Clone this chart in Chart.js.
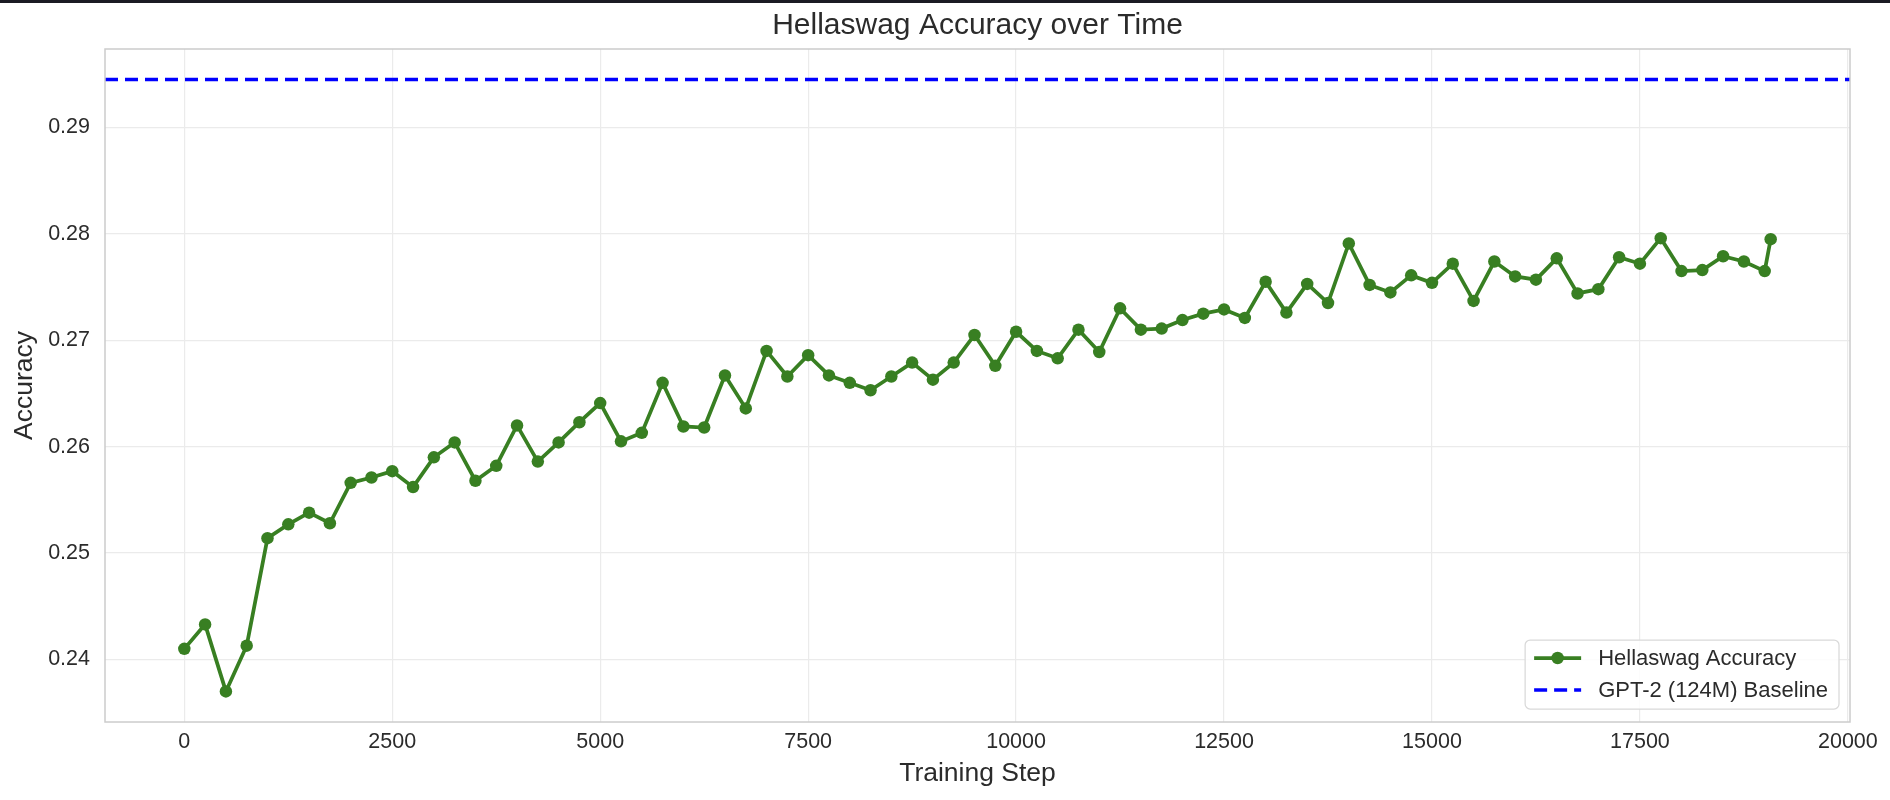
<!DOCTYPE html>
<html>
<head>
<meta charset="utf-8">
<title>Hellaswag Accuracy over Time</title>
<script src="https://cdn.jsdelivr.net/npm/chart.js@4.4.7/dist/chart.umd.min.js"></script>
<style>
    html, body { margin: 0; padding: 0; background: #ffffff; }
    #topbar { position: absolute; left: 0; top: 0; width: 1890px; height: 3px; background: #1b1b23; }
    #chart { display: block; }
</style>
</head>
<body>
<div id="topbar"></div>
<canvas id="chart" width="1890" height="800"></canvas>
<script>

//////////////////////////////////////////      Data     ///////////////////////////////////////////

// Evaluation steps (every 250 steps plus the final step).
const steps = [
    0, 250, 500, 750, 1000, 1250, 1500, 1750, 2000, 2250,
    2500, 2750, 3000, 3250, 3500, 3750, 4000, 4250, 4500, 4750,
    5000, 5250, 5500, 5750, 6000, 6250, 6500, 6750, 7000, 7250,
    7500, 7750, 8000, 8250, 8500, 8750, 9000, 9250, 9500, 9750,
    10000, 10250, 10500, 10750, 11000, 11250, 11500, 11750, 12000, 12250,
    12500, 12750, 13000, 13250, 13500, 13750, 14000, 14250, 14500, 14750,
    15000, 15250, 15500, 15750, 16000, 16250, 16500, 16750, 17000, 17250,
    17500, 17750, 18000, 18250, 18500, 18750, 19000, 19072
];

// Hellaswag accuracy at each step.
const accuracy = [
    0.2410, 0.2433, 0.2370, 0.2413, 0.2514, 0.2527, 0.2538, 0.2528, 0.2566, 0.2571,
    0.2577, 0.2562, 0.2590, 0.2604, 0.2568, 0.2582, 0.2620, 0.2586, 0.2604, 0.2623,
    0.2641, 0.2605, 0.2613, 0.2660, 0.2619, 0.2618, 0.2667, 0.2636, 0.2690, 0.2666,
    0.2686, 0.2667, 0.2660, 0.2653, 0.2666, 0.2679, 0.2663, 0.2679, 0.2705, 0.2676,
    0.2708, 0.2690, 0.2683, 0.2710, 0.2689, 0.2730, 0.2710, 0.2711, 0.2719, 0.2725,
    0.2729, 0.2721, 0.2755, 0.2726, 0.2753, 0.2735, 0.2791, 0.2752, 0.2745, 0.2761,
    0.2754, 0.2772, 0.2737, 0.2774, 0.2760, 0.2757, 0.2777, 0.2744, 0.2748, 0.2778,
    0.2772, 0.2796, 0.2765, 0.2766, 0.2779, 0.2774, 0.2765, 0.2795
];

// GPT-2 (124M) reference accuracy.
const baseline = 0.2945;

// Tick values.
const xTicks = [0, 2500, 5000, 7500, 10000, 12500, 15000, 17500, 20000];
const yTicks = [0.24, 0.25, 0.26, 0.27, 0.28, 0.29];

const labels = ['Hellaswag Accuracy', 'GPT-2 (124M) Baseline'];

//////////////////////////////////////////      Main     ///////////////////////////////////////////

const FONT = '"Liberation Sans", Arial, Helvetica, sans-serif';
const TEXT = '#2b2b2b';
const GREEN = '#387f22';
const BLUE = '#0000ff';

/*
 * Axis limits with a 5% margin like matplotlib's autoscale.
 */
function getLimits(values) {
    var lo = Math.min.apply(null, values);
    var hi = Math.max.apply(null, values);
    var m = (hi - lo) * 0.05;
    return { min: lo - m, max: hi + m };
}

const xLim = getLimits(steps);
const yLim = getLimits(accuracy.concat([baseline]));

/*
 * Plugin: axes frame and the legend in the lower right corner.
 */
const framePlugin = {
    id: 'frame',
    afterDraw(chart) {
        const ctx = chart.ctx;
        const a = chart.chartArea;

        // Frame round the plot.
        ctx.save();
        ctx.strokeStyle = '#cccccc';
        ctx.lineWidth = 1.5;
        ctx.strokeRect(a.left, a.top, a.right - a.left, a.bottom - a.top);
        ctx.restore();

        // Legend.
        ctx.save();
        ctx.font = '22px ' + FONT;
        var tw = Math.max(ctx.measureText(labels[0]).width, ctx.measureText(labels[1]).width);
        var w = 73 + tw + 11;
        var h = 69;
        var x0 = a.right - 11 - w;
        var y0 = a.bottom - 13 - h;

        ctx.beginPath();
        ctx.roundRect(x0, y0, w, h, 5);
        ctx.fillStyle = 'rgba(255,255,255,0.85)';
        ctx.fill();
        ctx.strokeStyle = '#d9d9d9';
        ctx.lineWidth = 1.25;
        ctx.stroke();

        var ds = chart.data.datasets;
        var rows = [y0 + 18, y0 + 50];
        for (var i = 0; i < 2; i++) {
            var y = rows[i];
            ctx.beginPath();
            ctx.setLineDash(ds[i].borderDash || []);
            ctx.lineCap = 'butt';
            ctx.strokeStyle = ds[i].borderColor;
            ctx.lineWidth = ds[i].borderWidth;
            ctx.moveTo(x0 + 9, y);
            ctx.lineTo(x0 + 56, y);
            ctx.stroke();
            ctx.setLineDash([]);
            if (ds[i].pointRadius > 0) {
                ctx.beginPath();
                ctx.fillStyle = ds[i].pointBackgroundColor;
                ctx.arc(x0 + 32.5, y, ds[i].pointRadius, 0, Math.PI * 2);
                ctx.fill();
            }
            ctx.fillStyle = TEXT;
            ctx.textBaseline = 'middle';
            ctx.textAlign = 'left';
            ctx.fillText(labels[i], x0 + 73, y + 1);
        }
        ctx.restore();
    }
};

function initLineChart() {

    const ctx = document.getElementById('chart');

    var points = steps.map(function (s, i) { return { x: s, y: accuracy[i] }; });
    var base = [{ x: xLim.min, y: baseline }, { x: xLim.max, y: baseline }];

    var data = {
        datasets: [{
            label: labels[0],
            data: points,
            borderColor: GREEN,
            borderWidth: 3.75,
            pointRadius: 6.25,
            pointHoverRadius: 6.25,
            pointBackgroundColor: GREEN,
            pointBorderWidth: 0,
            tension: 0,
            order: 1
        }, {
            label: labels[1],
            data: base,
            borderColor: BLUE,
            borderWidth: 3.5,
            borderDash: [13, 7],
            borderCapStyle: 'butt',
            pointRadius: 0,
            order: 0
        }]
    };

    var options = {
        responsive: false,
        animation: false,
        devicePixelRatio: 1,
        layout: { padding: { left: 0, right: 40, top: 0, bottom: 0 } },
        plugins: {
            legend: { display: false },
            tooltip: { enabled: false },
            title: {
                display: true,
                text: 'Hellaswag Accuracy over Time',
                color: TEXT,
                fullSize: false,
                font: { family: FONT, size: 30, weight: 'normal', lineHeight: 1.2 },
                padding: { top: 8, bottom: 5 }
            }
        },
        scales: {
            x: {
                type: 'linear',
                min: xLim.min,
                max: xLim.max,
                afterBuildTicks: function (axis) {
                    axis.ticks = xTicks.map(function (v) { return { value: v }; });
                },
                afterFit: function (scale) { scale.height = 78; },
                grid: { color: '#ebebeb', lineWidth: 1.2, drawTicks: false },
                border: { display: false },
                ticks: {
                    color: TEXT,
                    autoSkip: false,
                    maxRotation: 0,
                    padding: 7,
                    font: { family: FONT, size: 21.5 },
                    callback: function (v) { return String(v); }
                },
                title: {
                    display: true,
                    text: 'Training Step',
                    color: TEXT,
                    font: { family: FONT, size: 26.5 },
                    padding: { top: 0, bottom: 10 }
                }
            },
            y: {
                type: 'linear',
                min: yLim.min,
                max: yLim.max,
                afterBuildTicks: function (axis) {
                    axis.ticks = yTicks.map(function (v) { return { value: v }; });
                },
                afterFit: function (scale) { scale.width = 105; },
                grid: { color: '#ebebeb', lineWidth: 1.2, drawTicks: false },
                border: { display: false },
                ticks: {
                    color: TEXT,
                    padding: 15,
                    font: { family: FONT, size: 21.5 },
                    callback: function (v) { return v.toFixed(2); }
                },
                title: {
                    display: true,
                    text: 'Accuracy',
                    color: TEXT,
                    font: { family: FONT, size: 26.5 },
                    padding: { top: 9, bottom: 0 }
                }
            }
        }
    };

    var chart = new Chart(ctx, { type: 'line', data, options, plugins: [framePlugin] });

    return chart;
}

initLineChart();

</script>
</body>
</html>
